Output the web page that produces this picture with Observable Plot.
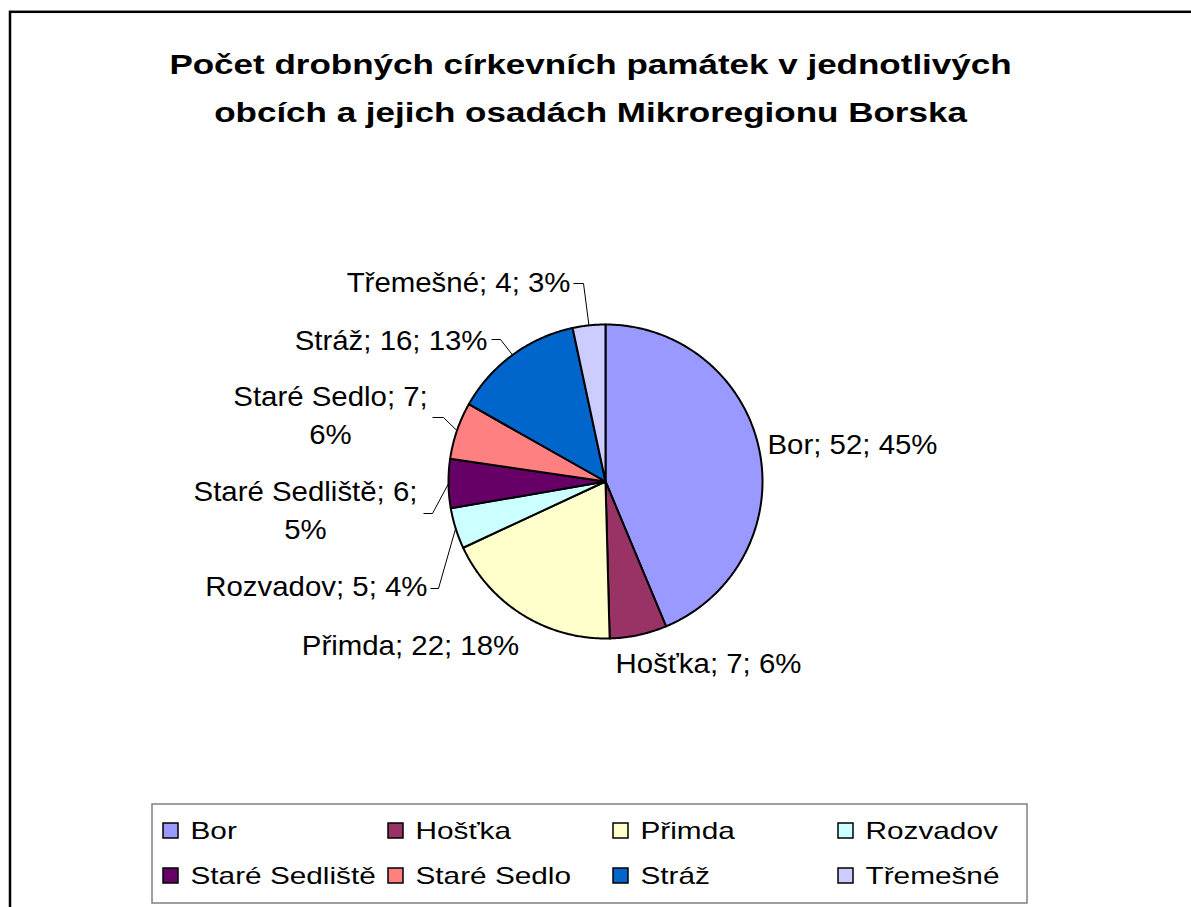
<!DOCTYPE html>
<html><head><meta charset="utf-8">
<script src="https://cdn.jsdelivr.net/npm/d3@7"></script>
<script src="https://cdn.jsdelivr.net/npm/@observablehq/plot@0.6"></script>
<style>html,body{margin:0;padding:0;background:#fff;overflow:hidden}</style>
</head><body><div id="chart"></div>
<script>
// ---- data ----
const categories = ["Bor","Hošťka","Přimda","Rozvadov","Staré Sedliště","Staré Sedlo","Stráž","Třemešné"];
const values = [52,7,22,5,6,7,16,4];
const percentLabels = [45,6,18,4,5,6,13,3];
const colors = ["#9999FF","#993366","#FFFFCC","#CCFFFF","#660066","#FF8080","#0066CC","#CCCCFF"];
const titleLines = ["Počet drobných církevních památek v jednotlivých","obcích a jejich osadách Mikroregionu Borska"];

// ---- layout ----
const W = 1191, H = 907;
const cx = 605, cy = 481, R = 157;
const labelLayout = [
  {x: 767, y: 453, anchor: "start"},
  {x: 708, y: 672, anchor: "middle"},
  {x: 410, y: 654, anchor: "middle"},
  {x: 427, y: 595, anchor: "end", elbow: [438, 588], attach: 430},
  {x: 305, y: 538, anchor: "middle", wrap: true, elbow: [432, 513], attach: 423},
  {x: 330, y: 443, anchor: "middle", wrap: true, elbow: [443, 417], attach: 432},
  {x: 487, y: 349, anchor: "end", elbow: [500, 339], attach: 491},
  {x: 570, y: 291, anchor: "end", elbow: [583, 283], attach: 573}
];
// horizontal stretch of the original (Excel) text rendering, per text mark in order:
// title, labels (start, middle, end), legend
const stretchByTextMark = [1.25, 1.05, 1.05, 1.05, 1.24];

const arcs = d3.pie().sort(null).value(d => d)(values);
const pt = (a, r) => [cx + r * Math.sin(a), cy - r * Math.cos(a)];

const slicePts = [];
arcs.forEach((a, i) => {
  const name = categories[i];
  slicePts.push({name, x: cx, y: cy});
  const n = Math.max(2, Math.ceil((a.endAngle - a.startAngle) / (Math.PI / 360)));
  for (let k = 0; k <= n; k++) {
    const t = a.startAngle + (a.endAngle - a.startAngle) * k / n;
    const [x, y] = pt(t, R);
    slicePts.push({name, x, y});
  }
  slicePts.push({name, x: cx, y: cy});
});

const labels = categories.map((name, i) => {
  const L = labelLayout[i];
  const text = L.wrap ? `${name}; ${values[i]};\n${percentLabels[i]}%` : `${name}; ${values[i]}; ${percentLabels[i]}%`;
  return {name, text, ...L};
});

const leaders = [];
labels.forEach((d, i) => {
  if (!d.elbow) return;
  const mid = (arcs[i].startAngle + arcs[i].endAngle) / 2;
  const [ex, ey] = pt(mid, R);
  leaders.push({name: d.name, x: d.attach, y: d.elbow[1]});
  leaders.push({name: d.name, x: d.elbow[0], y: d.elbow[1]});
  leaders.push({name: d.name, x: ex, y: ey});
});

const legend = categories.map((name, i) => ({name, col: i % 4, row: Math.floor(i / 4)}));

const textOpts = {x: "x", y: "y", text: "text", lineAnchor: "bottom", fontSize: 28, lineHeight: 1.34, fill: "black"};

const chart = Plot.plot({
  width: W, height: H, margin: 0,
  x: {type: "identity", axis: null},
  y: {type: "identity", axis: null},
  color: {domain: categories, range: colors},
  style: {fontFamily: "'Liberation Sans', Arial, sans-serif", background: "#fff", color: "black"},
  marks: [
    Plot.frame({stroke: "black", strokeWidth: 2.5, insetLeft: 9.5, insetTop: 11.3, insetRight: -40, insetBottom: -40}),
    Plot.text(titleLines, {x: () => 590, y: (d, i) => 73 + i * 48, text: d => d, fontSize: 28, fontWeight: "bold", lineAnchor: "bottom", fill: "black"}),
    Plot.line(slicePts, {x: "x", y: "y", z: "name", fill: "name", stroke: "black", strokeWidth: 2, strokeLinejoin: "round", curve: "linear"}),
    Plot.line(leaders, {x: "x", y: "y", z: "name", stroke: "black", strokeWidth: 1, strokeLinejoin: "miter", strokeLinecap: "butt"}),
    Plot.text(labels.filter(d => d.anchor === "start"), {...textOpts, textAnchor: "start"}),
    Plot.text(labels.filter(d => d.anchor === "middle"), {...textOpts, textAnchor: "middle"}),
    Plot.text(labels.filter(d => d.anchor === "end"), {...textOpts, textAnchor: "end"}),
    Plot.rect([0], {x1: () => 152, x2: () => 1027, y1: () => 804, y2: () => 903, fill: "none", stroke: "#808080", strokeWidth: 1.5}),
    Plot.rect(legend, {x1: d => 163 + d.col * 225, x2: d => 178 + d.col * 225, y1: d => 823 + d.row * 45, y2: d => 838 + d.row * 45, fill: "name", stroke: "black", strokeWidth: 1.5}),
    Plot.text(legend, {x: d => 190 + d.col * 225, y: d => 838 + d.row * 45, text: "name", textAnchor: "start", lineAnchor: "bottom", fontSize: 24, fill: "black"})
  ]
});
document.getElementById("chart").appendChild(chart);

// apply the horizontal text stretch of the original rendering
d3.select(chart).selectAll('g[aria-label="text"]').each(function (_, gi) {
  const k = stretchByTextMark[gi] || 1;
  this.querySelectorAll("text").forEach(t => {
    const spans = t.querySelectorAll("tspan");
    const targets = spans.length ? Array.from(spans) : [t];
    targets.forEach(el => {
      const len = el.getComputedTextLength();
      if (len > 0) {
        el.setAttribute("textLength", len * k);
        el.setAttribute("lengthAdjust", "spacingAndGlyphs");
      }
    });
  });
});
</script>
</body></html>
